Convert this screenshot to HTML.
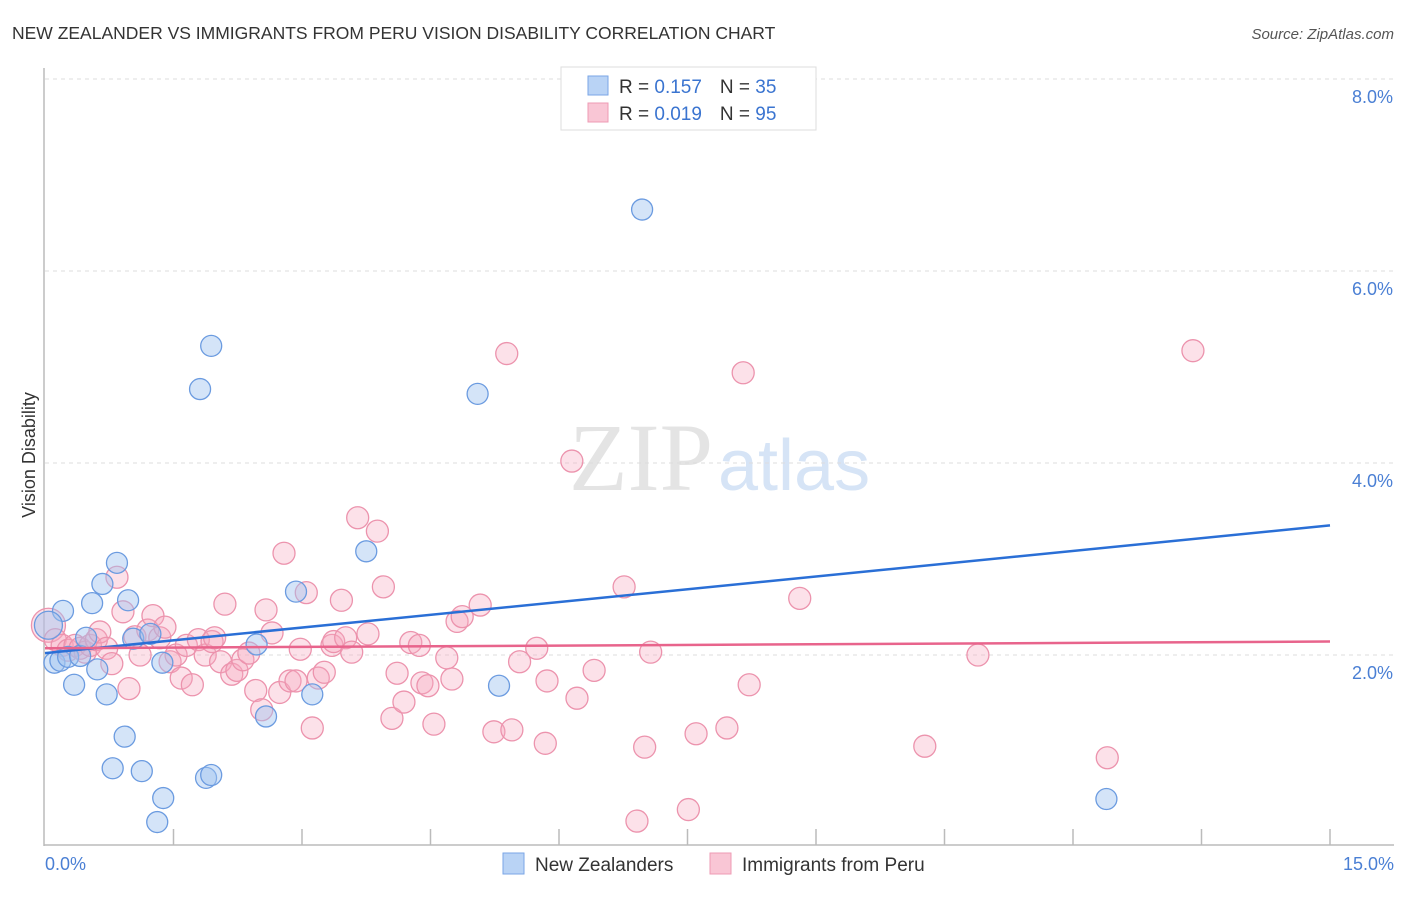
<!DOCTYPE html>
<html><head><meta charset="utf-8"><style>
body{margin:0;background:#fff;font-family:"Liberation Sans",sans-serif;}
svg text{font-family:"Liberation Sans",sans-serif;}
</style></head><body>
<svg id="c" width="1406" height="892" viewBox="0 0 1406 892" xmlns="http://www.w3.org/2000/svg">
<text x="12" y="39" font-size="17.5" fill="#333">NEW ZEALANDER VS IMMIGRANTS FROM PERU VISION DISABILITY CORRELATION CHART</text>
<text x="1394" y="39" font-size="15" fill="#555" font-style="italic" text-anchor="end">Source: ZipAtlas.com</text>
<g>
<text x="713" y="490" font-size="96" fill="#e4e4e4" text-anchor="end" style="font-family:'Liberation Serif',serif">ZIP</text>
<text x="718" y="490" font-size="72" fill="#d6e4f6">atlas</text>
</g>
<g id="grid"></g>
<g id="axes"></g>
<g id="pts"></g>
<g id="trend"></g>
<text x="35" y="455" font-size="18" fill="#333" text-anchor="middle" transform="rotate(-90 35 455)">Vision Disability</text>
<text x="45" y="870" font-size="18" fill="#4a7fd4">0.0%</text>
<text x="1394" y="870" font-size="18" fill="#4a7fd4" text-anchor="end">15.0%</text>
<g>
<rect x="561" y="67" width="255" height="63" fill="#fff" stroke="#ddd"/>
<rect x="588" y="76" width="20" height="19" fill="#b9d3f5" stroke="#7aa6e6"/>
<rect x="588" y="103" width="20" height="19" fill="#f9c6d5" stroke="#ee9bb4"/>
<text x="619" y="93" font-size="19" fill="#333">R = <tspan fill="#3a74d0">0.157</tspan><tspan dx="18">N = </tspan><tspan fill="#3a74d0">35</tspan></text>
<text x="619" y="120" font-size="19" fill="#333">R = <tspan fill="#3a74d0">0.019</tspan><tspan dx="18">N = </tspan><tspan fill="#3a74d0">95</tspan></text>
</g>
<g>
<rect x="503" y="853" width="21" height="21" fill="#b9d3f5" stroke="#7aa6e6"/>
<text x="535" y="871" font-size="19" fill="#333">New Zealanders</text>
<rect x="710" y="853" width="21" height="21" fill="#f9c6d5" stroke="#ee9bb4"/>
<text x="742" y="871" font-size="19" fill="#333">Immigrants from Peru</text>
</g>
</svg>
<script>
const yTicks=[2,4,6,8];
const yTickLabels=["2.0%","4.0%","6.0%","8.0%"];
const xTicks=[0,1.5,3,4.5,6,7.5,9,10.5,12,13.5,15];
const blueX=[0.11,0.18,0.21,0.27,0.34,0.41,0.48,0.55,0.61,0.67,0.72,0.79,0.84,0.93,0.97,1.03,1.13,1.23,1.31,1.37,1.38,1.81,1.88,1.94,1.94,2.47,2.58,2.93,3.12,3.75,5.05,5.30,6.97,12.39,0.04];
const blueY=[1.92,1.94,2.46,1.98,1.69,1.99,2.18,2.54,1.85,2.74,1.59,0.82,2.96,1.15,2.57,2.17,0.79,2.22,0.26,1.92,0.51,4.77,0.72,0.75,5.22,2.11,1.36,2.66,1.59,3.08,4.72,1.68,6.64,0.50,2.31];
const pinkX=[0.04,0.12,0.20,0.27,0.35,0.41,0.47,0.53,0.60,0.64,0.72,0.78,0.84,0.91,0.98,1.05,1.11,1.20,1.26,1.34,1.40,1.46,1.53,1.59,1.65,1.72,1.79,1.87,1.95,1.98,2.05,2.10,2.18,2.24,2.31,2.38,2.46,2.53,2.58,2.65,2.74,2.79,2.86,2.93,2.98,3.05,3.12,3.19,3.26,3.35,3.37,3.46,3.51,3.58,3.65,3.77,3.88,3.95,4.05,4.11,4.19,4.27,4.37,4.40,4.47,4.54,4.69,4.75,4.81,4.87,5.08,5.24,5.39,5.45,5.54,5.74,5.84,5.86,6.15,6.21,6.41,6.76,6.91,7.00,7.07,7.51,7.60,7.96,8.15,8.22,8.81,10.27,10.89,12.40,13.40];
const pinkY=[2.31,2.16,2.10,2.05,2.10,2.07,2.03,2.10,2.16,2.24,2.07,1.91,2.81,2.45,1.65,2.19,2.00,2.26,2.41,2.18,2.29,1.93,2.00,1.76,2.10,1.69,2.16,2.00,2.14,2.18,1.93,2.53,1.80,1.84,1.95,2.02,1.63,1.43,2.47,2.23,1.61,3.06,1.73,1.73,2.06,2.65,1.24,1.76,1.82,2.10,2.14,2.57,2.18,2.03,3.43,2.22,3.29,2.71,1.34,1.81,1.51,2.13,2.10,1.71,1.68,1.28,1.97,1.75,2.35,2.40,2.52,1.20,5.14,1.22,1.93,2.07,1.08,1.73,4.02,1.55,1.84,2.71,0.27,1.04,2.03,0.39,1.18,1.24,4.94,1.69,2.59,1.05,2.00,0.93,5.17];
const blueTrend=[2.02,3.35];
const pinkTrend=[2.07,2.14];
const X0=45,X1=1330,Y0=847,PPY=96;
function sx(v){return X0+(v/15)*(X1-X0);}
function sy(v){return Y0-v*PPY;}
const NS="http://www.w3.org/2000/svg";
function mk(t,a,p){const e=document.createElementNS(NS,t);for(const k in a)e.setAttribute(k,a[k]);p.appendChild(e);return e;}
const grid=document.getElementById('grid'),axes=document.getElementById('axes');
yTicks.forEach((t,i)=>{
 const l=mk('line',{x1:X0,x2:1394,y1:sy(t),y2:sy(t),stroke:'#ddd','stroke-dasharray':'4 4'},grid);
 
 
 const tx=mk('text',{x:1393,y:sy(t)+24,'font-size':18,fill:'#4a7fd4','text-anchor':'end'},axes);
 tx.textContent=yTickLabels[i];
 
 
});
mk('line',{x1:44,x2:44,y1:68,y2:846,stroke:'#bbb','stroke-width':1.5},axes);
mk('line',{x1:44,x2:1394,y1:845,y2:845,stroke:'#bbb','stroke-width':1.5},axes);
xTicks.forEach(t=>{
 if(t===0)return;
 const l=mk('line',{x1:sx(t),x2:sx(t),y1:829,y2:845,stroke:'#bbb','stroke-width':1.5},axes);
 
 
});
const pts=document.getElementById('pts');
pinkX.forEach((v,i)=>{
 const c=mk('circle',{cx:sx(v),cy:sy(pinkY[i]),r:i===0?17:11,fill:'rgba(246,170,192,0.35)',stroke:'#ec93ad','stroke-width':1.3},pts);
 
 
});
blueX.forEach((v,i)=>{
 const c=mk('circle',{cx:sx(v),cy:sy(blueY[i]),r:i===34?14:10.5,fill:'rgba(160,195,240,0.45)',stroke:'#6b9be0','stroke-width':1.3},pts);
 
 
});
const tr=document.getElementById('trend');
const bl=mk('line',{x1:sx(0),x2:sx(15),y1:sy(blueTrend[0]),y2:sy(blueTrend[1]),stroke:'#2a6fd6','stroke-width':2.5},tr);


const pl=mk('line',{x1:sx(0),x2:sx(15),y1:sy(pinkTrend[0]),y2:sy(pinkTrend[1]),stroke:'#e8648c','stroke-width':2.5},tr);


</script>
</body></html>
